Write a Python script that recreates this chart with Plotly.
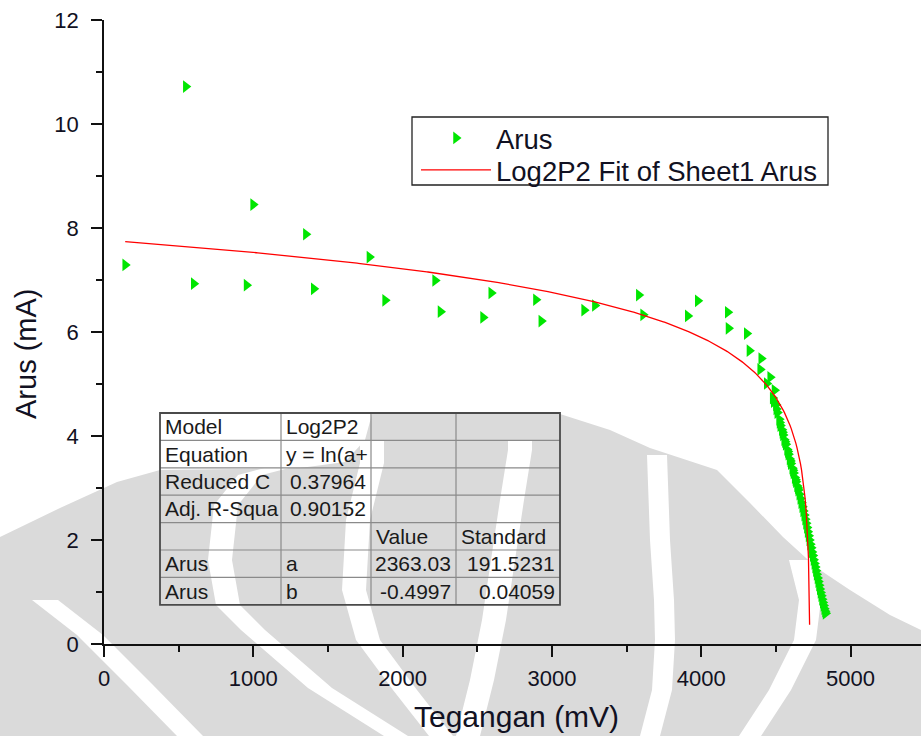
import numpy as np
import plotly.graph_objects as go

# Measured voltage (mV) and current (mA)
tegangan = [142, 548, 601, 955, 999, 1352, 1405, 1778, 1883, 2218, 2254, 2539, 2594,
            2893, 2929, 3216, 3288, 3582, 3611, 3910, 3977, 4178, 4183, 4305, 4323,
            4395, 4402, 4439, 4462, 4479, 4491, 4486, 4500, 4510, 4503, 4522, 4530,
            4525, 4540, 4548, 4544, 4556, 4566, 4561, 4575, 4584, 4580, 4592, 4600,
            4597, 4610, 4618, 4614, 4626, 4634, 4631, 4642, 4650, 4647, 4657, 4664,
            4670, 4677, 4683, 4690, 4696, 4702, 4708, 4713, 4719, 4724, 4730, 4736,
            4741, 4747, 4752, 4758, 4763, 4768, 4773, 4779, 4784, 4789, 4794, 4799,
            4804, 4809, 4814, 4819, 4824, 4829, 4833]
arus = [7.29, 10.72, 6.93, 6.90, 8.45, 7.88, 6.83, 7.44, 6.61, 6.99, 6.39, 6.28, 6.75,
        6.62, 6.21, 6.42, 6.51, 6.71, 6.33, 6.31, 6.60, 6.38, 6.07, 5.97, 5.64,
        5.28, 5.49, 5.01, 5.13, 4.73, 4.88, 4.66, 4.60, 4.45, 4.52, 4.32, 4.20,
        4.26, 4.12, 4.02, 4.07, 3.93, 3.84, 3.89, 3.74, 3.65, 3.70, 3.56, 3.47,
        3.52, 3.38, 3.29, 3.34, 3.20, 3.12, 3.16, 3.04, 2.96, 3.00, 2.88, 2.80,
        2.72, 2.64, 2.56, 2.48, 2.40, 2.32, 2.24, 2.16, 2.08, 2.00, 1.92, 1.85,
        1.77, 1.70, 1.62, 1.55, 1.48, 1.41, 1.34, 1.27, 1.20, 1.13, 1.06, 0.99,
        0.93, 0.86, 0.80, 0.74, 0.68, 0.63, 0.59]

# Log2P2 fit: y = ln(a + b*x)
fit_a = 2363.03
fit_b = -0.4997
fit_a_err = 191.5231
fit_b_err = 0.04059
reduced_chi = 0.37964
adj_r2 = 0.90152
fit_x_end = 4726

x_ticks = [0, 1000, 2000, 3000, 4000, 5000]
y_ticks = [0, 2, 4, 6, 8, 10, 12]

# fit report table, row by row
table_rows = [
    ["Model", "Log2P2", "", ""],
    ["Equation", "y = ln(a+", "", ""],
    ["Reduced C", f"{reduced_chi:.5f}", "", ""],
    ["Adj. R-Squa", f"{adj_r2:.5f}", "", ""],
    ["", "", "Value", "Standard"],
    ["Arus", "a", f"{fit_a:.2f}", f"{fit_a_err:.4f}"],
    ["Arus", "b", f"{fit_b:.4f}", f"{fit_b_err:.5f}"],
]

fit_x = np.linspace(tegangan[0], fit_x_end, 600)
fit_y = np.log(fit_a + fit_b * fit_x)

# page geometry (pixels)
W, H = 921, 736
ML, MR, MT, MB = 104, 0, 20, 92
PW, PH = W - ML - MR, H - MT - MB


def px_x(p):
    return (p - ML) / PW


def px_y(p):
    return (H - MB - p) / PH


def poly_path(pts):
    return "M" + " L".join(f"{px_x(a):.5f},{px_y(b):.5f}" for a, b in pts) + " Z"


def band(center, half):
    """Closed outline of a stripe of given half-width around a centre polyline."""
    left = [(x - half, y) for x, y in center]
    right = [(x + half, y) for x, y in reversed(center)]
    return left + right


FONT = "Liberation Sans, Arial, sans-serif"
INK = "#111122"
WM_GRAY = "#dadada"

shapes = []

# faint page watermark behind the chart
wm_body = [(0, 537), (60, 508), (117, 482), (160, 470), (300, 468), (345, 462), (365, 440),
           (372, 414), (400, 413), (480, 413), (560, 414), (610, 430), (650, 448), (717, 470),
           (750, 503), (783, 537), (817, 568), (850, 590), (890, 615), (921, 630),
           (921, 736), (0, 736)]
wm_stripes = [
    band([(372, 440), (372, 463), (358, 520), (354, 590), (368, 640), (405, 690), (441, 736)], 12),
    band([(520, 440), (520, 450), (512, 500), (503, 560), (494, 620), (482, 680), (468, 736)], 12),
    band([(300, 462), (250, 475), (226, 505), (220, 560), (228, 605), (253, 630), (320, 688),
          (396, 736)], 12),
    band([(657, 455), (660, 540), (664, 600), (665, 640), (662, 690), (650, 736)], 10),
    band([(45, 600), (90, 635), (140, 685), (190, 736)], 13),
    band([(800, 560), (810, 600), (805, 640), (780, 690), (750, 736)], 11),
]
shapes.append(dict(type="path", xref="paper", yref="paper", path=poly_path(wm_body),
                   fillcolor=WM_GRAY, line=dict(width=0), layer="below"))
for stripe in wm_stripes:
    shapes.append(dict(type="path", xref="paper", yref="paper", path=poly_path(stripe),
                       fillcolor="white", line=dict(width=0), layer="below"))

# legend frame
shapes.append(dict(type="rect", xref="paper", yref="paper",
                   x0=px_x(412), x1=px_x(828), y0=px_y(117), y1=px_y(185),
                   fillcolor="white", line=dict(color="#222", width=1.3), layer="below"))

fig = go.Figure()
fig.add_trace(go.Scatter(
    x=tegangan, y=arus, mode="markers", name="Arus", legend="legend", showlegend=True,
    marker=dict(symbol="triangle-right", size=11, color="#00e600", line=dict(width=0)),
))
fig.add_trace(go.Scatter(
    x=fit_x, y=fit_y, mode="lines", name="Log2P2 Fit of Sheet1 Arus", legend="legend2",
    showlegend=True, line=dict(color="#ff0000", width=1.3),
))

# table grid
col_px = [160, 281, 371, 456, 560]
row_top, row_h = 413, 27.4
n_rows = len(table_rows)
for i in range(1, n_rows):
    yy = row_top + i * row_h
    shapes.append(dict(type="line", xref="paper", yref="paper",
                       x0=px_x(col_px[0]), x1=px_x(col_px[-1]), y0=px_y(yy), y1=px_y(yy),
                       line=dict(color="#8a8a8a", width=1.2), layer="above"))
for cx in col_px[1:-1]:
    shapes.append(dict(type="line", xref="paper", yref="paper",
                       x0=px_x(cx), x1=px_x(cx), y0=px_y(row_top), y1=px_y(row_top + n_rows * row_h),
                       line=dict(color="#8a8a8a", width=1.2), layer="above"))
shapes.append(dict(type="rect", xref="paper", yref="paper",
                   x0=px_x(col_px[0]), x1=px_x(col_px[-1]),
                   y0=px_y(row_top), y1=px_y(row_top + n_rows * row_h),
                   line=dict(color="#4a4a4a", width=1.8), layer="above"))

annotations = []
for r, row in enumerate(table_rows):
    yc = px_y(row_top + (r + 0.5) * row_h)
    for c, txt in enumerate(row):
        if not txt:
            continue
        is_num = txt[0].isdigit() or txt[0] == "-"
        if is_num:
            xa, anchor = px_x(col_px[c + 1] - 3), "right"
        else:
            xa, anchor = px_x(col_px[c] + 3), "left"
        annotations.append(dict(x=xa, y=yc, xref="paper", yref="paper", text=txt,
                                showarrow=False, xanchor=anchor, yanchor="middle",
                                font=dict(family=FONT, size=21, color="#1a1a1a")))

# axis titles
annotations.append(dict(x=px_x(516), y=px_y(716), xref="paper", yref="paper",
                        text="Tegangan (mV)", showarrow=False, xanchor="center", yanchor="middle",
                        font=dict(family=FONT, size=30, color=INK)))
annotations.append(dict(x=px_x(26), y=px_y(354), xref="paper", yref="paper",
                        text="Arus (mA)", showarrow=False, xanchor="center", yanchor="middle",
                        textangle=-90, font=dict(family=FONT, size=29, color=INK)))

axis_common = dict(
    showline=True, linecolor="#111", linewidth=1.8, showgrid=False, zeroline=False,
    ticks="outside", ticklen=11, tickwidth=1.8, tickcolor="#111",
    tickfont=dict(family=FONT, size=22, color=INK),
)

legend_common = dict(xanchor="left", yanchor="middle", borderwidth=0,
                     bgcolor="rgba(0,0,0,0)", itemwidth=70,
                     font=dict(family=FONT, size=27.5, color=INK))

fig.update_layout(
    width=W, height=H, showlegend=True,
    margin=dict(l=ML, r=MR, t=MT, b=MB),
    paper_bgcolor="white", plot_bgcolor="rgba(0,0,0,0)",
    xaxis=dict(range=[0, PW / 0.1493], tickvals=x_ticks,
               minor=dict(ticks="outside", ticklen=6, tickwidth=1.8, tickcolor="#111", dtick=500),
               ticklabelstandoff=3, **axis_common),
    yaxis=dict(range=[0, 12], tickvals=y_ticks,
               minor=dict(ticks="outside", ticklen=6, tickwidth=1.8, tickcolor="#111", dtick=1),
               ticklabelstandoff=8, **axis_common),
    legend=dict(x=px_x(416), y=px_y(138), **legend_common),
    legend2=dict(x=px_x(416), y=px_y(170), **legend_common),
    shapes=shapes,
    annotations=annotations,
)

fig.write_html("out.html")
